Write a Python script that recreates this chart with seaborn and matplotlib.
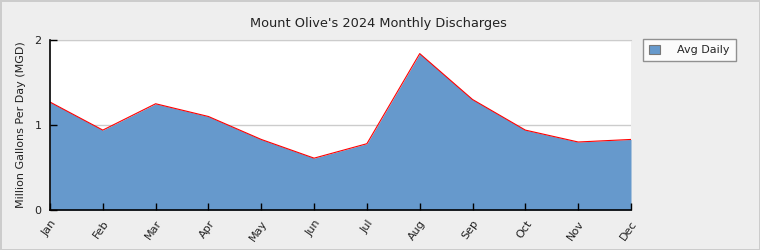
import matplotlib
matplotlib.use("Agg")
import matplotlib.pyplot as plt
import seaborn as sns
import pandas as pd
from matplotlib.patches import Patch

months = ["Jan", "Feb", "Mar", "Apr", "May", "Jun", "Jul", "Aug", "Sep", "Oct", "Nov", "Dec"]
avg_daily = [1.27, 0.94, 1.25, 1.10, 0.83, 0.61, 0.78, 1.84, 1.30, 0.94, 0.80, 0.83]
y_ticks = [0, 1, 2]

df = pd.DataFrame({"pos": range(len(months)), "month": months, "value": avg_daily})

sns.set_style("white")
plt.rcParams["font.family"] = ["DejaVu Sans"]

fig = plt.figure(figsize=(7.6, 2.5), dpi=100)
fig.patch.set_facecolor("#eeeeee")
fig.patch.set_edgecolor("#cccccc")
fig.patch.set_linewidth(2)
ax = fig.add_axes([50 / 760, 40 / 250, 581 / 760, 170 / 250])
ax.set_facecolor("white")

fill_color = "#6699cc"
for t in y_ticks[1:]:
    ax.axhline(t, color="#cccccc", linewidth=1, zorder=1)
ax.fill_between(df["pos"], 0, df["value"], color=fill_color, linewidth=0, zorder=2)
sns.lineplot(data=df, x="pos", y="value", color="red", linewidth=0.8, ax=ax, zorder=3)

ax.set_xlim(0, len(months) - 1)
ax.set_ylim(0, 2)
ax.set_yticks(y_ticks)
ax.set_yticklabels([str(t) for t in y_ticks], fontsize=8, color="#222222")
ax.set_xticks(df["pos"])
ax.set_xticklabels(months, fontsize=8, rotation=55, ha="right", va="top", rotation_mode="anchor",
                   color="#222222")
ax.tick_params(axis="both", which="major", direction="in", length=5, width=1, color="black",
               bottom=True, left=True, top=False, right=False, pad=6)
ax.set_xlabel("")
ax.set_ylabel("Million Gallons Per Day (MGD)", fontsize=8, labelpad=6, color="#222222")
ax.grid(False)
ax.set_axisbelow(False)

for s in ["left", "bottom"]:
    ax.spines[s].set_color("black")
    ax.spines[s].set_linewidth(1.2)
    ax.spines[s].set_zorder(4)
ax.spines["top"].set_visible(True)
ax.spines["top"].set_color("#cccccc")
ax.spines["right"].set_visible(False)

fig.text(378 / 760, 1 - 24 / 250, "Mount Olive's 2024 Monthly Discharges", ha="center", va="center",
         fontsize=9.3, color="#222222")

handle = Patch(facecolor=fill_color, edgecolor="#777777", linewidth=0.8)
leg = fig.legend([handle], ["Avg Daily"], loc="upper left", bbox_to_anchor=(643 / 760, 1 - 39 / 250),
                 fontsize=8, frameon=True, fancybox=False, handlelength=1.0, handleheight=1.0,
                 handletextpad=1.6, borderpad=0.5, borderaxespad=0)
leg.get_frame().set_edgecolor("#777777")
leg.get_frame().set_linewidth(1)
leg.get_frame().set_facecolor("white")

fig.savefig("out.png", dpi=100, facecolor=fig.get_facecolor(), edgecolor=fig.get_edgecolor())
